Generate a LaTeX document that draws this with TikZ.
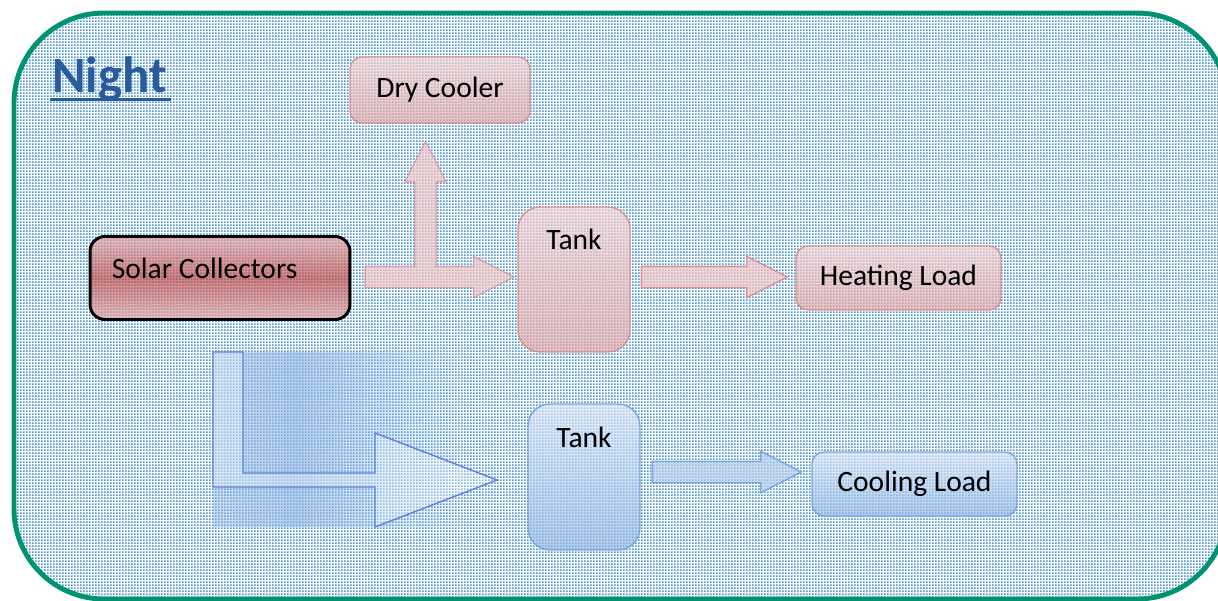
\documentclass[tikz,border=0pt]{standalone}
\usepackage{fontspec}
\setmainfont{Carlito}
\usepackage{tikz}
\usetikzlibrary{positioning, shapes.arrows, patterns.meta}

\definecolor{frame}{RGB}{0,148,110}
\definecolor{nightblue}{RGB}{42,92,156}
\definecolor{dotblue}{RGB}{72,150,222}
\definecolor{hotline}{RGB}{214,140,138}
\definecolor{hottop}{RGB}{242,212,211}
\definecolor{hotbot}{RGB}{226,168,167}
\definecolor{hotdark}{RGB}{192,80,77}
\definecolor{coldline}{RGB}{115,160,218}
\definecolor{coldtop}{RGB}{218,230,245}
\definecolor{coldbot}{RGB}{150,184,226}

\tikzdeclarepattern{
  name=finedots,
  type=uncolored,
  bottom left={(0pt,0pt)},
  top right={(0.06cm,0.06cm)},
  tile size={(0.06cm,0.06cm)},
  code={\fill (0pt,0pt) rectangle (0.034cm,0.034cm);}
}

\begin{document}
\begin{tikzpicture}[
    x=0.02cm, y=-0.02cm,
    every node/.style={font=\fontsize{16.8}{20}\selectfont, text=black},
    box/.style={rectangle, rounded corners=0.24cm, line width=0.8pt, inner sep=0pt,
        fill opacity=0.72, draw opacity=0.9, text opacity=1},
    hot/.style={box, draw=hotline, top color=hottop, bottom color=hotbot},
    cold/.style={box, draw=coldline, top color=coldtop, bottom color=coldbot},
    tag/.style={inner sep=0pt},
    pipe/.style={single arrow, inner sep=0.2cm, single arrow head extend=0.2cm,
        single arrow tip angle=54, line width=0.8pt, anchor=tail, draw opacity=0.9},
    pipe hot/.style={pipe, draw=hotline, fill=hottop!70!hotbot},
    pipe cold/.style={pipe, draw=coldline, fill=coldtop!50!coldbot},
]
\useasboundingbox (0,0) rectangle (1218,600);

% dotted backdrop
\fill[rounded corners=1.8cm, pattern=finedots, pattern color=dotblue] (14,13) rectangle (1227,599);

% title
\node[tag, font=\fontsize{29}{34}\selectfont\bfseries, text=nightblue, anchor=base west] (night) at (52,92) {Night};
\draw[nightblue, line width=1.7pt] ([xshift=-1pt, yshift=-4.5pt]night.base west) -- ([xshift=2pt, yshift=-4.5pt]night.base east);

% heating side
\node[hot, minimum width=3.6cm, minimum height=1.32cm] (dry) at (440,90) {Dry Cooler};
\node[box, draw=black, line width=1.7pt, rounded corners=0.3cm, draw opacity=1,
    top color=hotbot, bottom color=hotbot, middle color=hotdark,
    minimum width=5.2cm, minimum height=1.66cm,
    label={[tag, anchor=base west, xshift=0.46cm]west:Solar Collectors}] (solar) at (220,278) {};
\node[hot, rounded corners=0.44cm, minimum width=2.24cm, minimum height=2.9cm,
    label={[tag, anchor=base, yshift=-0.86cm]north:Tank}] (tank1) at (574,279.5) {};
\node[hot, minimum width=4.1cm, minimum height=1.28cm] (heat) at (898.5,278) {Heating Load};

\begin{scope}[transparency group, opacity=0.75]
\node[pipe hot, anchor=tip, shape border rotate=90, minimum height=2.76cm] (vent) at ([xshift=-0.29cm, yshift=-0.32cm]dry.south) {};
\node[pipe hot, minimum height=2.98cm] (charge) at ([xshift=0.26cm, yshift=0.02cm]solar.east) {};
\fill[hottop!70!hotbot] (416.5,262) rectangle (434.5,272);
\end{scope}
\node[pipe hot, fill opacity=0.75, minimum height=2.92cm] (supply) at ([xshift=0.2cm, yshift=0.05cm]tank1.east) {};

% cooling side
\foreach \i in {0,...,26} {
    \pgfmathsetmacro\op{\i<8 ? 0.5+0.025*\i : 0.7*(26-\i)/18}
    \fill[coldbot, fill opacity=\op] (213+10*\i,352) rectangle (223+10*\i,527);
}
\draw[coldline!80!blue, line width=0.8pt, fill=white, fill opacity=0.3]
    (213,352) -- (243,352) -- (243,473) -- (375,473) -- (375,433) -- (497,480)
    -- (375,527) -- (375,487) -- (213,487) -- cycle;
\node[cold, rounded corners=0.44cm, minimum width=2.24cm, minimum height=2.92cm,
    label={[tag, anchor=base, yshift=-0.88cm]north:Tank}] (tank2) at (584,477) {};
\node[cold, minimum width=4.1cm, minimum height=1.28cm] (cool) at (914.5,484) {Cooling Load};
\node[pipe cold, fill opacity=0.75, minimum height=2.98cm] (chill) at ([xshift=0.22cm, yshift=0.1cm]tank2.east) {};

% frame
\draw[frame, line width=2.8pt, rounded corners=1.8cm] (14,13) rectangle (1227,599);
\end{tikzpicture}
\end{document}
